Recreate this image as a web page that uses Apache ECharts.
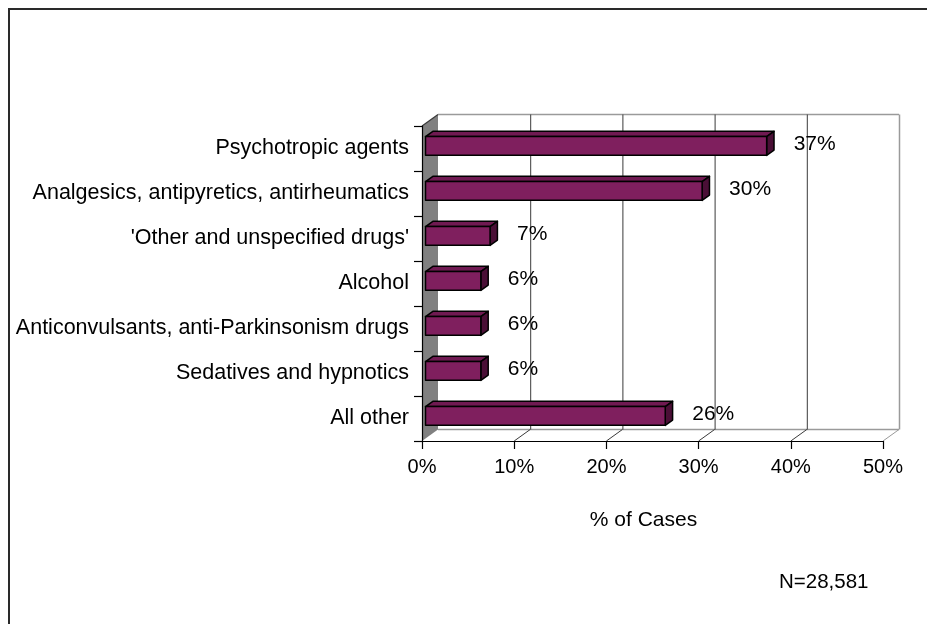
<!DOCTYPE html>
<html>
<head>
<meta charset="utf-8">
<title>Poisoning cases by drug class</title>
<script src="https://cdn.jsdelivr.net/npm/echarts@6/dist/echarts.min.js"></script>
<style>
  html, body { margin: 0; padding: 0; background: #ffffff; }
  #chart { width: 927px; height: 624px; }
</style>
</head>
<body>
<div id="chart"></div>
<script>
// Drug classes, top to bottom
const categories = [
  'Psychotropic agents',
  'Analgesics, antipyretics, antirheumatics',
  "'Other and unspecified drugs'",
  'Alcohol',
  'Anticonvulsants, anti-Parkinsonism drugs',
  'Sedatives and hypnotics',
  'All other'
];
// Share of cases, in percent
const percentOfCases = [37, 30, 7, 6, 6, 6, 26];
// Value-axis ticks
const xTicks = [0, 10, 20, 30, 40, 50];
const sampleNote = 'N=28,581';
const axisTitle = '% of Cases';

// Oblique depth of the 3D box (pixels)
const DEPTH_X = 16;
const DEPTH_Y = 11.5;
const FONT = "'Liberation Sans', Arial, sans-serif";

const chart = echarts.init(document.getElementById('chart'));

// Back wall, left wall and floor lines of the 3D box
function renderFrame(params, api) {
  const v = api.value(0);
  const cs = params.coordSys;
  const top = cs.y, bottom = cs.y + cs.height;
  const x = api.coord([v, 0])[0];
  const xEnd = api.coord([xTicks[xTicks.length - 1], 0])[0];
  const children = [];
  const dark = '#3a3a3a', light = '#9a9a9a';
  if (v === xTicks[0]) {
    children.push({
      type: 'polygon',
      shape: { points: [[x, top], [x + DEPTH_X, top - DEPTH_Y], [x + DEPTH_X, bottom - DEPTH_Y], [x, bottom]] },
      style: { fill: '#808080' }
    });
    children.push({
      type: 'line',
      shape: { x1: x, y1: top, x2: x + DEPTH_X, y2: top - DEPTH_Y },
      style: { stroke: dark, lineWidth: 1.2 }
    });
    children.push({
      type: 'line',
      shape: { x1: x + DEPTH_X, y1: top - DEPTH_Y, x2: xEnd + DEPTH_X, y2: top - DEPTH_Y },
      style: { stroke: light, lineWidth: 1.5 }
    });
    children.push({
      type: 'line',
      shape: { x1: x + DEPTH_X, y1: bottom - DEPTH_Y, x2: xEnd + DEPTH_X, y2: bottom - DEPTH_Y },
      style: { stroke: light, lineWidth: 1.5 }
    });
  } else {
    const last = v === xTicks[xTicks.length - 1];
    const c = last ? light : dark;
    children.push({
      type: 'line',
      shape: { x1: x + DEPTH_X + 0.5, y1: top - DEPTH_Y, x2: x + DEPTH_X + 0.5, y2: bottom - DEPTH_Y },
      style: { stroke: c, lineWidth: last ? 1.5 : 1 }
    });
    children.push({
      type: 'line',
      shape: { x1: x, y1: bottom, x2: x + DEPTH_X, y2: bottom - DEPTH_Y },
      style: { stroke: c, lineWidth: 1 }
    });
  }
  return { type: 'group', children: children };
}

// Oblique 3D bar with its value label
function renderBar(params, api) {
  const idx = api.value(0);
  const v = api.value(1);
  const base = api.coord([0, idx]);
  const end = api.coord([v, idx]);
  const band = api.size([0, 1])[1];
  const h = band / 2.4;
  const fx = DEPTH_X * 0.22, fy = DEPTH_Y * 0.22;
  const sx = DEPTH_X * 0.46, sy = DEPTH_Y * 0.46;
  const x0 = base[0] + fx, x1 = end[0] + fx;
  const yTop = base[1] - h / 2 - fy, yBot = yTop + h;
  const edge = { stroke: '#000000', lineWidth: 1.5, lineJoin: 'round' };
  return {
    type: 'group',
    children: [
      {
        type: 'polygon',
        shape: { points: [[x0, yTop], [x0 + sx, yTop - sy], [x1 + sx, yTop - sy], [x1, yTop]] },
        style: Object.assign({ fill: '#701a52' }, edge)
      },
      {
        type: 'polygon',
        shape: { points: [[x1, yTop], [x1 + sx, yTop - sy], [x1 + sx, yBot - sy], [x1, yBot]] },
        style: Object.assign({ fill: '#4a0f36' }, edge)
      },
      {
        type: 'polygon',
        shape: { points: [[x0, yTop], [x1, yTop], [x1, yBot], [x0, yBot]] },
        style: Object.assign({ fill: '#7f1f5e' }, edge)
      },
      {
        type: 'text',
        style: {
          text: v + '%',
          x: x1 + 27,
          y: (yTop + yBot) / 2 - 2,
          verticalAlign: 'middle',
          align: 'left',
          fill: '#000000',
          font: '21px ' + FONT
        }
      }
    ]
  };
}

const option = {
  backgroundColor: '#ffffff',
  animation: false,
  textStyle: { fontFamily: FONT },
  grid: { left: 422, top: 126, width: 461, height: 315, containLabel: false },
  xAxis: {
    type: 'value',
    min: xTicks[0],
    max: xTicks[xTicks.length - 1],
    interval: 10,
    z: 5,
    name: axisTitle,
    nameLocation: 'middle',
    nameGap: 69,
    nameTextStyle: { fontSize: 21, color: '#000', fontFamily: FONT, padding: [0, 18, 0, 0] },
    axisLine: { show: true, lineStyle: { color: '#000', width: 1.2 } },
    axisTick: { show: true, length: 8, lineStyle: { color: '#000', width: 1.2 } },
    axisLabel: { formatter: '{value}%', fontSize: 20, color: '#000', fontFamily: FONT, margin: 16 },
    splitLine: { show: false }
  },
  yAxis: {
    type: 'category',
    inverse: true,
    data: categories,
    z: 5,
    axisLine: { show: true, lineStyle: { color: '#000', width: 1.2 } },
    axisTick: { show: true, length: 8, lineStyle: { color: '#000', width: 1.2 } },
    axisLabel: { fontSize: 21.5, color: '#000', fontFamily: FONT, margin: 13 },
    splitLine: { show: false }
  },
  graphic: [
    {
      type: 'rect',
      shape: { x: 9, y: 9, width: 940, height: 640 },
      style: { fill: 'none', stroke: '#2a2a2a', lineWidth: 2 },
      silent: true
    },
    {
      type: 'text',
      left: 779,
      top: 572,
      style: { text: sampleNote, font: '20.5px ' + FONT, fill: '#000' }
    }
  ],
  series: [
    {
      name: 'frame',
      type: 'custom',
      z: 1,
      silent: true,
      renderItem: renderFrame,
      encode: { x: 0, y: 1 },
      data: xTicks.map(function (t) { return [t, 0]; })
    },
    {
      name: 'share',
      type: 'custom',
      z: 2,
      renderItem: renderBar,
      encode: { x: 1, y: 0 },
      data: percentOfCases.map(function (v, i) { return [i, v]; })
    }
  ]
};

chart.setOption(option);
</script>
</body>
</html>
